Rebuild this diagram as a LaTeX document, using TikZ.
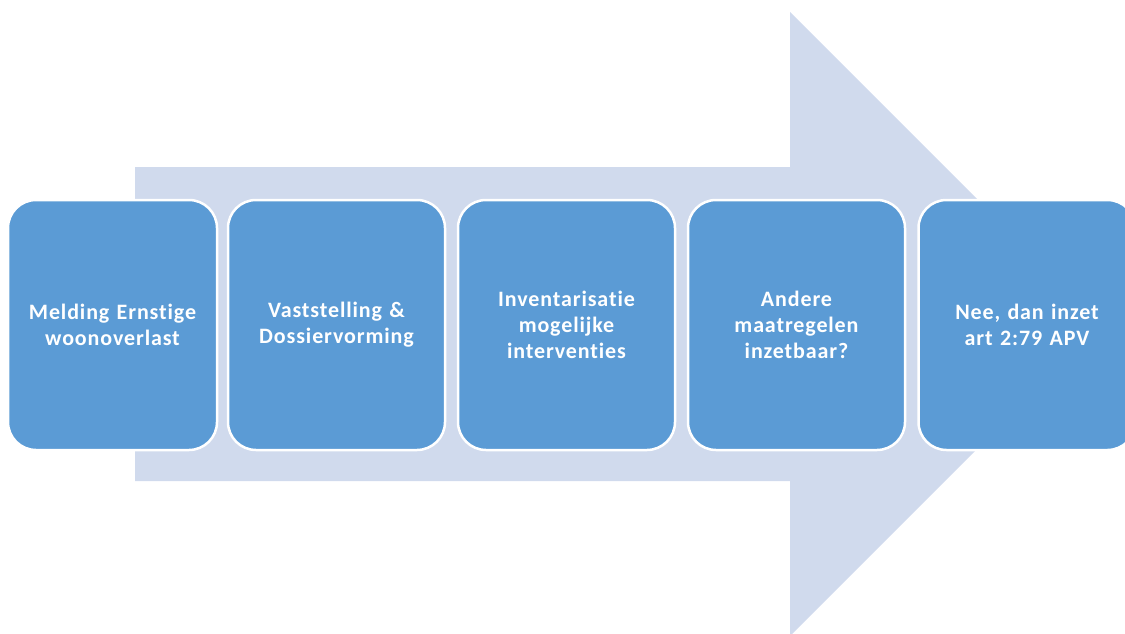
\documentclass[tikz,border=0pt]{standalone}
\usepackage{fontspec}
\setmainfont{Carlito}[Ligatures=NoCommon,LetterSpace=4]
\definecolor{pijlblauw}{RGB}{208,218,237}
\definecolor{stapblauw}{RGB}{91,155,213}
\tikzset{
  stap/.style={draw=white,line width=2.5pt,fill=stapblauw,rounded corners=28pt,
    minimum height=250pt,minimum width=217pt,text width=200pt,align=center,
    text=white,font=\fontsize{22}{26}\selectfont\bfseries,inner sep=0pt}
}
\begin{document}
\begin{tikzpicture}[x=1pt,y=-1pt]
  \useasboundingbox (0,0) rectangle (1125,634);
  \clip (0,0) rectangle (1125,634);
  % grote pijl op de achtergrond
  \fill [pijlblauw] (135,167) -- (790,167) -- (790,12) -- (1102,324)
        -- (790,636) -- (790,481) -- (135,481) -- cycle;

  \node [stap,minimum width=209pt] (melding) at (112.5,325) {Melding Ernstige\\woonoverlast};
  \node [stap] (vaststelling) at (336.5,325) {Vaststelling \&\\Dossiervorming};
  \node [stap] (inventarisatie) at (566.5,325) {Inventarisatie\\mogelijke\\interventies};
  \node [stap] (maatregelen) at (796.5,325) {Andere\\maatregelen\\inzetbaar?};
  \node [stap] (inzet) at (1027,325) {Nee, dan inzet\\art 2:79 APV};
\end{tikzpicture}
\end{document}
